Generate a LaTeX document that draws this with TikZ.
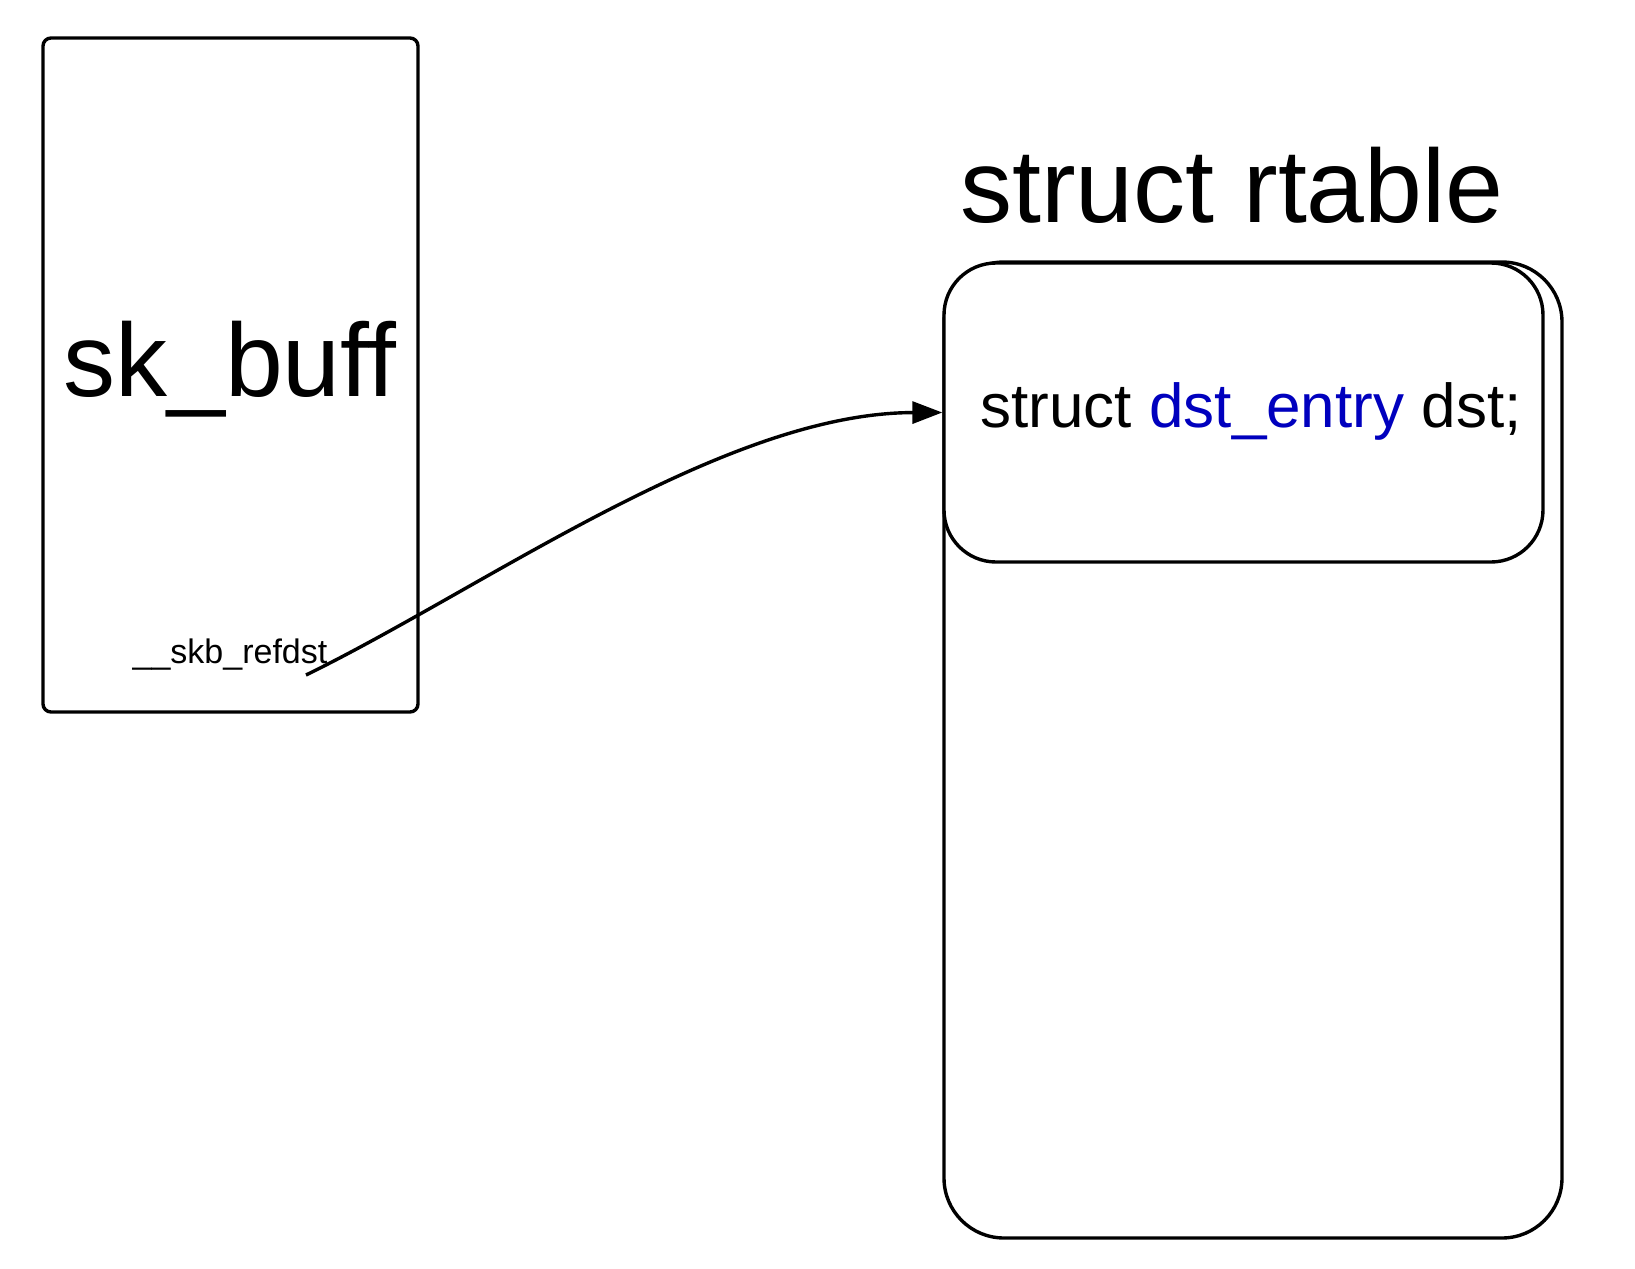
\documentclass[tikz,border=0pt]{standalone}
\usepackage{fontspec}
\setmainfont{Liberation Sans}
\usetikzlibrary{arrows.meta}
\definecolor{dstblue}{RGB}{0,0,190}
\begin{document}
\begin{tikzpicture}[
    x=0.5pt, y=-0.5pt,
    struct/.style={rectangle, draw, line width=1.7pt, inner sep=0pt},
    title/.style={font=\fontsize{52pt}{60pt}\selectfont, anchor=base, inner sep=0pt},
    field/.style={anchor=base, inner sep=0pt}
]
    \useasboundingbox (0,0) rectangle (1635,1269);

    \node[struct, rounded corners=4pt, minimum width=187.5pt, minimum height=337pt] (skbuff) at (230.5,375) {};
    \node[title] (skbufflabel) at (230,396) {sk\_buff};
    \node[field, font=\fontsize{17pt}{20pt}\selectfont] (refdst) at (230,663) {\_\_skb\_refdst};
    \coordinate (refdsttail) at (306,675);

    \node[struct, rounded corners=30pt, minimum width=309pt, minimum height=488pt] (rtable) at (1253,750) {};
    \node[struct, rounded corners=26pt, fill=white, minimum width=299.5pt, minimum height=149.5pt] (dstentry) at (1243.5,412.5) {};
    \node[title] (rtablelabel) at (1232,222) {struct rtable};
    \node[field, font=\fontsize{31pt}{36pt}\selectfont] (dstfield) at (1251,427) {struct \textcolor{dstblue}{dst\_entry} dst;};

    \draw[line width=1.7pt, -{Triangle[length=15pt, width=11pt]}] (refdsttail) .. controls (486,587) and (725,413) .. (dstentry.west);
\end{tikzpicture}
\end{document}
